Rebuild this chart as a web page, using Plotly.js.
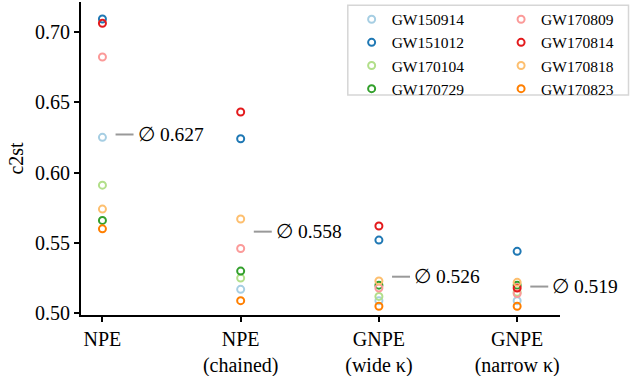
<!DOCTYPE html>
<html>
<head>
<meta charset="utf-8">
<script src="https://cdn.plot.ly/plotly-3.0.1.min.js"></script>
<style>
  html, body { margin: 0; padding: 0; background: #fff; }
  #chart { width: 634px; height: 376px; }
</style>
</head>
<body>
<div id="chart"></div>
<script>
// c2st per event for each inference method
const methods = ['NPE', 'NPE<br>(chained)', 'GNPE<br>(wide κ)', 'GNPE<br>(narrow κ)'];
const events = ['GW150914', 'GW151012', 'GW170104', 'GW170729', 'GW170809', 'GW170814', 'GW170818', 'GW170823'];
const colors = ['#a6cee3', '#1f78b4', '#b2df8a', '#33a02c', '#fb9a99', '#e31a1c', '#fdbf6f', '#ff7f00'];

const gw150914 = [0.625, 0.517, 0.509, 0.509];
const gw151012 = [0.709, 0.624, 0.552, 0.544];
const gw170104 = [0.591, 0.525, 0.512, 0.515];
const gw170729 = [0.566, 0.530, 0.520, 0.520];
const gw170809 = [0.682, 0.546, 0.518, 0.514];
const gw170814 = [0.706, 0.643, 0.562, 0.518];
const gw170818 = [0.574, 0.567, 0.523, 0.522];
const gw170823 = [0.560, 0.509, 0.505, 0.505];
const values = [gw150914, gw151012, gw170104, gw170729, gw170809, gw170814, gw170818, gw170823];

// mean labels as printed in the figure
const means = [0.627, 0.558, 0.526, 0.519];

const FONT = "'Liberation Serif', 'DejaVu Serif', serif";
const xs = methods.map((_, i) => i);

const traces = events.map((name, k) => ({
  type: 'scatter',
  mode: 'markers',
  x: xs,
  y: values[k],
  name: name,
  legend: k < 4 ? 'legend' : 'legend2',
  marker: { symbol: 'circle-open', size: 7, color: colors[k], line: { width: 2 } },
  cliponaxis: false,
}));

const shapes = means.map((m, i) => ({
  type: 'line', xref: 'x', yref: 'y',
  x0: i + 0.095, x1: i + 0.225, y0: m, y1: m,
  line: { color: '#999999', width: 2 },
}));
// legend frame
shapes.push({
  type: 'rect', xref: 'paper', yref: 'paper',
  x0: 0.557, x1: 1.143, y0: 0.703, y1: 0.990,
  line: { color: '#d6d6d6', width: 1.5 }, fillcolor: 'rgba(255,255,255,0.85)', layer: 'above',
});

const annotations = means.map((m, i) => ({
  x: i + 0.24, y: m, xref: 'x', yref: 'y',
  text: '∅ ' + m.toFixed(3), showarrow: false,
  xanchor: 'left', yanchor: 'middle',
  font: { family: FONT, size: 19.5, color: '#000' },
}));

const legendCommon = {
  yanchor: 'top', xanchor: 'left', y: 0.998,
  bgcolor: 'rgba(0,0,0,0)', borderwidth: 0,
  font: { family: FONT, size: 15.5, color: '#000' },
  tracegroupgap: 0, itemwidth: 30,
};

const layout = {
  width: 634, height: 376,
  margin: { l: 81, r: 74, t: 2, b: 61 },
  paper_bgcolor: '#fff', plot_bgcolor: '#fff',
  font: { family: FONT, size: 20, color: '#000' },
  showlegend: true,
  legend: { ...legendCommon, x: 0.565 },
  legend2: { ...legendCommon, x: 0.877 },
  xaxis: {
    range: [-0.155, 3.31],
    tickvals: xs, ticktext: methods,
    showgrid: false, zeroline: false,
    showline: true, linecolor: '#000', linewidth: 2,
    ticks: 'outside', ticklen: 5, tickwidth: 2, tickcolor: '#000',
    tickfont: { family: FONT, size: 20 },
  },
  yaxis: {
    range: [0.4988, 0.7211],
    tickvals: [0.50, 0.55, 0.60, 0.65, 0.70], tickformat: '.2f',
    showgrid: false, zeroline: false,
    showline: true, linecolor: '#000', linewidth: 2,
    ticks: 'outside', ticklen: 5, tickwidth: 2, tickcolor: '#000',
    tickfont: { family: FONT, size: 20 },
    title: { text: 'c2st', font: { family: FONT, size: 20 }, standoff: 6 },
  },
  shapes: shapes,
  annotations: annotations,
};

Plotly.newPlot('chart', traces, layout, { displayModeBar: false, staticPlot: true });
</script>
</body>
</html>
